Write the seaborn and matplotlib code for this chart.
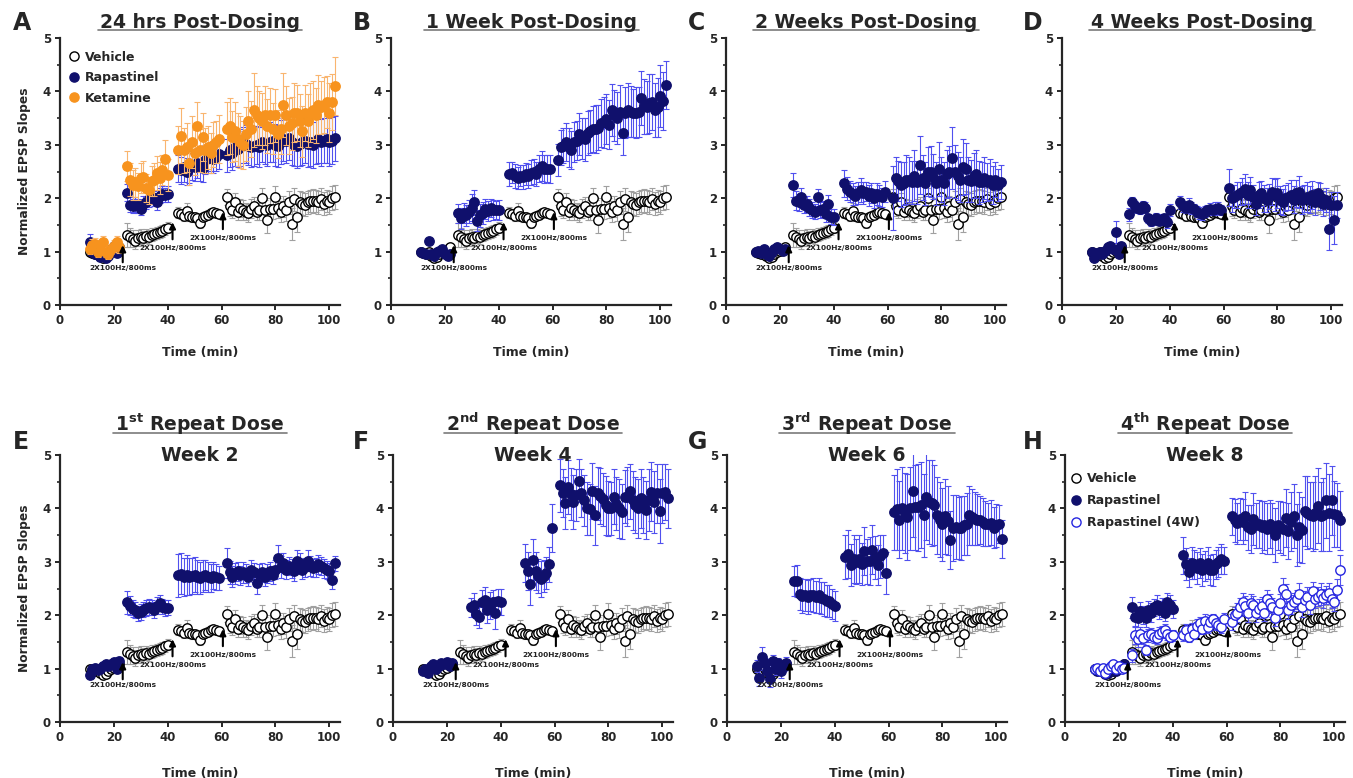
import numpy as np
import pandas as pd
import matplotlib
matplotlib.use("Agg")
import matplotlib.pyplot as plt
import seaborn as sns
from matplotlib.lines import Line2D
from matplotlib.ticker import MultipleLocator

nan = np.nan

# ---------------- data ----------------
time_min = list(range(11, 23)) + list(range(25, 41)) + list(range(44, 60)) + list(range(62, 103))

vehicle = [1.00, 0.98, 0.95, 1.00, 0.92, 0.88, 0.90, 0.95, 1.00, 1.02, 1.05, 1.08,
           1.31, 1.27, 1.24, 1.20, 1.26, 1.28, 1.25, 1.30, 1.28, 1.32, 1.33, 1.35, 1.37, 1.38, 1.42, 1.45,
           1.73, 1.70, 1.67, 1.76, 1.67, 1.64, 1.65, 1.62, 1.54, 1.65, 1.67, 1.69, 1.72, 1.74, 1.72, 1.70,
           2.02, 1.85, 1.78, 1.92, 1.75, 1.82, 1.78, 1.75, 1.72, 1.80, 1.85, 1.75, 1.78, 2.00, 1.78, 1.60,
           1.80, 1.80, 2.02, 1.82, 1.75, 1.85, 1.78, 1.92, 1.52, 1.98, 1.65, 1.92, 1.90, 1.88, 1.92, 1.95,
           1.95, 1.95, 1.92, 1.98, 1.90, 1.95, 1.92, 2.00, 2.02]
vehicle_sem = [0.04, 0.05, 0.04, 0.05, 0.06, 0.05, 0.04, 0.05, 0.04, 0.05, 0.04, 0.05,
               0.22, 0.18, 0.16, 0.15, 0.15, 0.14, 0.14, 0.13, 0.13, 0.12, 0.12, 0.12, 0.11, 0.11, 0.10, 0.10,
               0.10, 0.09, 0.09, 0.15, 0.09, 0.09, 0.08, 0.08, 0.10, 0.08, 0.08, 0.08, 0.08, 0.08, 0.08, 0.08,
               0.15, 0.18, 0.15, 0.18, 0.16, 0.17, 0.18, 0.16, 0.17, 0.18, 0.18, 0.16, 0.19, 0.20, 0.19, 0.26,
               0.20, 0.19, 0.20, 0.19, 0.20, 0.20, 0.21, 0.21, 0.30, 0.22, 0.28, 0.21, 0.21, 0.22, 0.21, 0.21,
               0.22, 0.21, 0.22, 0.21, 0.22, 0.21, 0.22, 0.22, 0.22]

rap_A = [1.18, 1.00, 0.95, 1.00, 0.90, 0.95, 0.88, 0.92, 1.05, 1.10, 0.98, 1.05,
         2.10, 1.88, 1.85, 1.88, 1.85, 1.80, 1.90, 1.92, 1.98, 2.02, 2.00, 1.93, 2.05, 2.07, 2.06, 2.07,
         2.55, 2.52, 2.58, 2.50, 2.56, 2.62, 2.58, 2.65, 2.60, 2.56, 2.72, 2.75, 2.78, 2.73, 2.78, 2.82,
         2.80, 2.90, 2.85, 2.95, 2.92, 2.95, 3.00, 3.02, 2.98, 2.95, 2.98, 3.00, 2.96, 3.05, 3.02, 3.00,
         3.05, 3.08, 3.00, 2.98, 3.05, 3.10, 3.08, 3.12, 3.05, 3.00, 2.98, 3.02, 3.05, 3.08, 3.02, 3.05,
         3.00, 3.08, 3.10, 3.05, 3.08, 3.10, 3.05, 3.08, 3.12]
rap_A_sem = [0.15, 0.06, 0.06, 0.05, 0.06, 0.06, 0.05, 0.06, 0.06, 0.07, 0.06, 0.06,
             0.16, 0.14, 0.13, 0.14, 0.13, 0.12, 0.14, 0.13, 0.14, 0.13, 0.14, 0.15, 0.14, 0.15, 0.14, 0.15,
             0.25, 0.26, 0.27, 0.26, 0.28, 0.27, 0.26, 0.28, 0.27, 0.26, 0.27, 0.28, 0.27, 0.26, 0.27, 0.28,
             0.30, 0.32, 0.33, 0.34, 0.33, 0.35, 0.34, 0.36, 0.35, 0.36, 0.37, 0.36, 0.38, 0.37, 0.38, 0.39,
             0.38, 0.40, 0.39, 0.40, 0.41, 0.40, 0.42, 0.41, 0.42, 0.40, 0.41, 0.42, 0.43, 0.42, 0.43, 0.44,
             0.43, 0.44, 0.45, 0.44, 0.43, 0.44, 0.45, 0.44, 0.42]

ket_A = [1.05, 1.12, 1.15, 1.00, 1.05, 1.18, 1.00, 0.95, 1.05, 1.10, 1.18, 1.08,
         2.60, 2.35, 2.25, 2.30, 2.22, 2.38, 2.40, 2.19, 2.15, 2.32, 2.35, 2.47, 2.38, 2.52, 2.74, 2.44,
         2.90, 3.17, 2.90, 2.95, 2.65, 3.05, 2.85, 3.35, 2.90, 3.15, 2.90, 2.95, 2.85, 3.00, 3.05, 3.10,
         3.30, 3.35, 3.15, 3.25, 3.10, 3.05, 3.00, 3.20, 3.45, 3.30, 3.65, 3.55, 3.50, 3.45, 3.55, 3.35,
         3.55, 3.30, 3.55, 3.20, 3.30, 3.75, 3.55, 3.35, 3.40, 3.60, 3.60, 3.45, 3.25, 3.60, 3.45, 3.60,
         3.65, 3.55, 3.75, 3.70, 3.75, 3.80, 3.60, 3.80, 4.10]
ket_A_sem = [0.10, 0.12, 0.10, 0.11, 0.09, 0.12, 0.10, 0.09, 0.10, 0.11, 0.12, 0.10,
             0.28, 0.30, 0.28, 0.27, 0.26, 0.28, 0.30, 0.26, 0.25, 0.28, 0.30, 0.32, 0.30, 0.28, 0.35, 0.30,
             0.45, 0.52, 0.42, 0.45, 0.40, 0.48, 0.42, 0.45, 0.40, 0.45, 0.42, 0.40, 0.38, 0.42, 0.40, 0.45,
             0.50, 0.52, 0.48, 0.55, 0.50, 0.48, 0.45, 0.50, 0.55, 0.52, 0.70, 0.55, 0.50, 0.52, 0.55, 0.50,
             0.52, 0.48, 0.50, 0.45, 0.48, 0.60, 0.55, 0.52, 0.50, 0.55, 0.52, 0.50, 0.48, 0.52, 0.50, 0.55,
             0.55, 0.52, 0.55, 0.50, 0.52, 0.48, 0.55, 0.52, 0.55]

rap_B = [1.00, 0.98, 0.95, 1.20, 0.95, 0.92, 1.00, 1.02, 1.05, 0.95, 0.92, 0.95,
         1.72, 1.62, 1.72, 1.68, 1.75, 1.82, 1.92, 1.58, 1.68, 1.72, 1.80, 1.76, 1.82, 1.78, 1.78, 1.78,
         2.45, 2.48, 2.42, 2.38, 2.42, 2.40, 2.45, 2.42, 2.48, 2.50, 2.45, 2.55, 2.60, 2.55, 2.55, 2.55,
         2.72, 2.95, 2.98, 3.05, 2.95, 2.90, 3.05, 3.08, 3.20, 3.12, 3.10, 3.22, 3.25, 3.30, 3.30, 3.32,
         3.40, 3.42, 3.48, 3.38, 3.65, 3.55, 3.50, 3.62, 3.22, 3.60, 3.65, 3.62, 3.60, 3.60, 3.62, 3.88,
         3.72, 3.70, 3.78, 3.80, 3.65, 3.70, 3.92, 3.82, 4.12]
rap_B_sem = [0.05, 0.05, 0.06, 0.05, 0.05, 0.06, 0.05, 0.05, 0.06, 0.05, 0.05, 0.05,
             0.18, 0.20, 0.19, 0.20, 0.22, 0.25, 0.24, 0.20, 0.21, 0.20, 0.19, 0.18, 0.17, 0.18, 0.17, 0.18,
             0.22, 0.20, 0.22, 0.21, 0.20, 0.22, 0.21, 0.22, 0.23, 0.24, 0.22, 0.25, 0.28, 0.26, 0.25, 0.26,
             0.30, 0.32, 0.33, 0.35, 0.36, 0.35, 0.38, 0.37, 0.40, 0.38, 0.40, 0.42, 0.40, 0.43, 0.45, 0.42,
             0.45, 0.48, 0.47, 0.45, 0.48, 0.47, 0.48, 0.50, 0.42, 0.48, 0.50, 0.48, 0.45, 0.48, 0.47, 0.50,
             0.52, 0.50, 0.55, 0.52, 0.50, 0.55, 0.58, 0.55, 0.45]

rap_C = [1.00, 1.02, 0.98, 1.05, 0.95, 0.92, 1.00, 1.05, 1.08, 1.05, 1.02, 1.05,
         2.25, 1.95, 1.92, 2.02, 1.88, 1.90, 1.82, 1.78, 1.75, 2.02, 1.78, 1.80, 1.70, 1.90, 1.65, 1.65,
         2.28, 2.18, 2.12, 2.08, 2.05, 2.10, 2.15, 2.10, 2.12, 2.05, 2.10, 2.00, 2.08, 2.05, 2.02, 2.12,
         2.00, 2.38, 2.32, 2.25, 2.28, 2.35, 2.35, 2.30, 2.42, 2.30, 2.62, 2.38, 2.28, 2.50, 2.50, 2.40,
         2.28, 2.55, 2.35, 2.28, 2.45, 2.50, 2.75, 2.50, 2.42, 2.35, 2.58, 2.55, 2.35, 2.32, 2.42, 2.45,
         2.30, 2.30, 2.38, 2.30, 2.35, 2.25, 2.35, 2.25, 2.30]
rap_C_sem = [0.05, 0.05, 0.06, 0.05, 0.05, 0.06, 0.05, 0.05, 0.06, 0.05, 0.05, 0.05,
             0.22, 0.18, 0.16, 0.18, 0.16, 0.15, 0.16, 0.15, 0.14, 0.16, 0.15, 0.15, 0.14, 0.16, 0.14, 0.15,
             0.25, 0.22, 0.20, 0.20, 0.18, 0.20, 0.22, 0.20, 0.18, 0.20, 0.19, 0.18, 0.20, 0.19, 0.18, 0.20,
             0.60, 0.40, 0.38, 0.42, 0.40, 0.45, 0.42, 0.40, 0.48, 0.40, 0.55, 0.42, 0.40, 0.45, 0.48, 0.42,
             0.40, 0.50, 0.42, 0.40, 0.45, 0.48, 0.58, 0.50, 0.45, 0.42, 0.52, 0.48, 0.42, 0.40, 0.42, 0.45,
             0.40, 0.38, 0.40, 0.35, 0.38, 0.35, 0.32, 0.30, 0.32]

rap_D = [1.00, 0.88, 0.98, 1.00, 0.95, 1.02, 1.08, 1.10, 1.05, 1.37, 0.95, 1.10,
         1.70, 1.92, 1.85, 1.82, 1.80, 1.85, 1.82, 1.62, 1.58, 1.60, 1.62, 1.58, 1.60, 1.62, 1.55, 1.78,
         1.92, 1.85, 1.82, 1.88, 1.82, 1.80, 1.75, 1.72, 1.70, 1.75, 1.78, 1.80, 1.78, 1.80, 1.82, 1.78,
         2.20, 2.00, 2.03, 2.06, 2.09, 2.12, 2.18, 2.06, 2.15, 2.03, 1.90, 2.06, 2.09, 2.00, 1.97, 2.03,
         2.12, 2.06, 2.09, 1.97, 1.93, 2.00, 2.03, 2.06, 1.97, 2.09, 2.12, 1.97, 2.00, 2.03, 1.97, 2.06,
         1.93, 2.09, 2.03, 1.90, 1.97, 1.43, 1.87, 1.59, 1.87]
rap_D_sem = [0.05, 0.06, 0.05, 0.06, 0.05, 0.05, 0.06, 0.05, 0.06, 0.20, 0.06, 0.05,
             0.12, 0.10, 0.10, 0.09, 0.10, 0.09, 0.10, 0.09, 0.10, 0.09, 0.10, 0.09, 0.10, 0.09, 0.10, 0.12,
             0.12, 0.10, 0.10, 0.12, 0.11, 0.10, 0.10, 0.11, 0.10, 0.11, 0.10, 0.11, 0.10, 0.12, 0.11, 0.10,
             0.35, 0.25, 0.22, 0.25, 0.22, 0.25, 0.28, 0.24, 0.25, 0.22, 0.22, 0.25, 0.24, 0.25, 0.22, 0.24,
             0.25, 0.30, 0.28, 0.26, 0.25, 0.24, 0.26, 0.28, 0.25, 0.26, 0.30, 0.26, 0.25, 0.28, 0.25, 0.26,
             0.24, 0.22, 0.25, 0.24, 0.22, 0.40, 0.25, 0.45, 0.25]

rap_E = [0.88, 1.00, 1.02, 0.98, 1.00, 1.05, 1.08, 1.05, 1.08, 1.12, 1.00, 1.15,
         2.24, 2.18, 2.12, 2.10, 2.04, 2.06, 2.10, 2.14, 2.16, 2.14, 2.10, 2.18, 2.22, 2.16, 2.14, 2.14,
         2.75, 2.78, 2.72, 2.75, 2.72, 2.74, 2.76, 2.72, 2.70, 2.74, 2.76, 2.72, 2.70, 2.74, 2.72, 2.70,
         2.97, 2.80, 2.72, 2.78, 2.82, 2.75, 2.80, 2.78, 2.72, 2.85, 2.80, 2.60, 2.78, 2.80, 2.72, 2.78,
         2.82, 2.75, 2.85, 3.07, 2.90, 2.98, 2.85, 2.92, 2.88, 2.82, 3.02, 2.98, 2.85, 2.90, 3.02, 2.92,
         2.88, 2.90, 2.95, 2.92, 2.88, 2.85, 2.82, 2.65, 2.97]
rap_E_sem = [0.06, 0.06, 0.07, 0.06, 0.06, 0.07, 0.06, 0.07, 0.06, 0.07, 0.06, 0.07,
             0.22, 0.18, 0.16, 0.15, 0.14, 0.15, 0.14, 0.15, 0.15, 0.14, 0.15, 0.16, 0.15, 0.14, 0.15, 0.14,
             0.40, 0.38, 0.36, 0.38, 0.35, 0.34, 0.33, 0.32, 0.30, 0.30, 0.28, 0.28, 0.26, 0.25, 0.24, 0.22,
             0.28, 0.22, 0.20, 0.20, 0.18, 0.18, 0.20, 0.18, 0.17, 0.18, 0.18, 0.20, 0.18, 0.18, 0.17, 0.18,
             0.18, 0.17, 0.18, 0.25, 0.20, 0.18, 0.18, 0.17, 0.18, 0.18, 0.20, 0.18, 0.17, 0.18, 0.20, 0.18,
             0.17, 0.18, 0.18, 0.17, 0.18, 0.17, 0.16, 0.15, 0.14]

rap_F = [0.95, 1.00, 0.92, 1.05, 1.08, 1.00, 1.05, 1.10, 1.08, 1.12, 1.05, 1.10,
         nan, nan, nan, nan, 2.15, 2.20, 2.02, 1.96, 2.25, 2.28, 2.10, 2.18, 2.25, 2.04, 2.26, 2.25,
         nan, nan, nan, nan, nan, 2.98, 2.83, 2.59, 3.04, 2.83, 2.74, 2.68, 2.74, 2.79, 2.95, 3.64,
         4.43, 4.28, 4.10, 4.40, 4.27, 4.12, 4.25, 4.52, 4.28, 4.15, 4.00, 3.98, 4.33, 3.87, 4.28, 4.23,
         4.17, 4.06, 4.00, 4.00, 4.22, 4.09, 4.00, 3.94, 4.22, 4.22, 4.32, 4.15, 4.06, 4.00, 4.19, 4.06,
         3.97, 4.15, 4.31, 4.12, 4.28, 3.95, 4.28, 4.31, 4.19]
rap_F_sem = [0.06, 0.06, 0.07, 0.06, 0.06, 0.07, 0.06, 0.07, 0.06, 0.07, 0.06, 0.07,
             nan, nan, nan, nan, 0.18, 0.22, 0.20, 0.20, 0.22, 0.25, 0.24, 0.25, 0.22, 0.30, 0.24, 0.25,
             nan, nan, nan, nan, nan, 0.35, 0.35, 0.40, 0.38, 0.35, 0.32, 0.33, 0.30, 0.30, 0.32, 0.45,
             0.50, 0.45, 0.48, 0.50, 0.48, 0.50, 0.48, 0.40, 0.45, 0.48, 0.50, 0.48, 0.52, 0.55, 0.50, 0.52,
             0.50, 0.55, 0.52, 0.50, 0.52, 0.50, 0.55, 0.52, 0.50, 0.55, 0.52, 0.55, 0.52, 0.55, 0.55, 0.52,
             0.55, 0.58, 0.55, 0.58, 0.55, 0.60, 0.55, 0.52, 0.55]

rap_G = [1.05, 0.82, 1.22, 1.10, 0.95, 0.80, 1.15, 1.00, 1.10, 0.95, 1.05, 1.10,
         2.64, 2.64, 2.40, 2.36, 2.37, 2.34, 2.37, 2.38, 2.34, 2.37, 2.33, 2.30, 2.27, 2.27, 2.21, 2.18,
         3.09, 3.14, 2.94, 3.06, 3.00, 3.06, 2.96, 3.20, 3.01, 3.02, 3.23, 3.08, 2.94, 3.10, 3.16, 2.79,
         3.93, 3.98, 3.79, 4.00, 3.92, 3.84, 4.00, 4.32, 4.02, 4.02, 4.06, 3.87, 4.22, 4.12, 4.10, 4.06,
         3.87, 3.79, 3.70, 3.85, 3.77, 3.41, 3.64, 3.66, 3.64, 3.64, 3.68, 3.71, 3.87, 3.84, 3.81, 3.79,
         3.78, 3.75, 3.71, 3.70, 3.73, 3.64, 3.68, 3.71, 3.43]
rap_G_sem = [0.12, 0.15, 0.18, 0.10, 0.12, 0.15, 0.10, 0.12, 0.10, 0.12, 0.10, 0.12,
             0.28, 0.30, 0.30, 0.32, 0.30, 0.32, 0.30, 0.32, 0.30, 0.32, 0.30, 0.32, 0.30, 0.30, 0.28, 0.28,
             0.42, 0.45, 0.40, 0.45, 0.42, 0.45, 0.40, 0.45, 0.42, 0.45, 0.45, 0.40, 0.38, 0.40, 0.35, 0.40,
             0.70, 0.75, 0.72, 0.78, 0.75, 0.80, 0.78, 0.85, 0.80, 0.82, 0.80, 0.78, 0.82, 0.78, 0.80, 0.75,
             0.72, 0.70, 0.68, 0.70, 0.65, 0.55, 0.62, 0.60, 0.58, 0.60, 0.55, 0.58, 0.55, 0.52, 0.50, 0.48,
             0.45, 0.45, 0.42, 0.40, 0.42, 0.38, 0.40, 0.35, 0.35]

rap_H = [1.00, 0.95, 0.98, 1.00, 0.90, 0.92, 0.95, 1.00, 0.95, 1.02, 1.05, 1.08,
         2.15, 1.97, 1.95, 2.08, 2.00, 1.95, 2.10, 2.05, 2.15, 2.20, 2.10, 2.15, 2.05, 2.25, 2.20, 2.12,
         3.12, 2.95, 2.80, 2.98, 2.95, 2.88, 2.98, 2.85, 2.92, 2.98, 2.85, 2.85, 2.95, 3.00, 3.05, 3.02,
         3.85, 3.78, 3.72, 3.80, 3.75, 3.85, 3.65, 3.62, 3.80, 3.68, 3.70, 3.65, 3.68, 3.62, 3.70, 3.62,
         3.50, 3.68, 3.65, 3.62, 3.82, 3.58, 3.75, 3.85, 3.50, 3.65, 3.60, 3.95, 3.92, 3.88, 3.85, 3.92,
         4.05, 3.85, 3.88, 4.15, 3.92, 4.15, 3.90, 3.88, 3.78]
rap_H_sem = [0.05, 0.05, 0.06, 0.05, 0.05, 0.06, 0.05, 0.05, 0.06, 0.05, 0.05, 0.05,
             0.20, 0.18, 0.17, 0.16, 0.17, 0.18, 0.16, 0.17, 0.16, 0.18, 0.17, 0.18, 0.16, 0.17, 0.18, 0.17,
             0.35, 0.30, 0.28, 0.30, 0.28, 0.30, 0.28, 0.30, 0.28, 0.30, 0.28, 0.30, 0.28, 0.28, 0.28, 0.25,
             0.35, 0.40, 0.38, 0.40, 0.42, 0.45, 0.42, 0.45, 0.48, 0.42, 0.45, 0.48, 0.45, 0.48, 0.45, 0.48,
             0.50, 0.45, 0.48, 0.50, 0.55, 0.52, 0.55, 0.60, 0.58, 0.65, 0.62, 0.65, 0.68, 0.62, 0.65, 0.68,
             0.70, 0.65, 0.68, 0.70, 0.72, 0.65, 0.62, 0.60, 0.55]

rap4w_H = [1.00, 1.02, 0.95, 1.02, 0.92, 1.00, 1.05, 1.08, 1.00, 1.05, 1.00, 1.02,
           1.25, 1.62, 1.55, 1.65, 1.58, 1.35, 1.62, 1.65, 1.60, 1.58, 1.65, 1.68, 1.72, 1.65, 1.60, 1.62,
           1.62, 1.72, 1.60, 1.75, 1.65, 1.80, 1.85, 1.75, 1.90, 1.78, 1.88, 1.92, 1.85, 1.82, 1.78, 1.92,
           1.87, 2.00, 2.05, 2.15, 2.25, 2.18, 2.05, 2.22, 2.20, 2.05, 2.12, 2.18, 2.05, 2.30, 2.22, 2.15,
           1.95, 2.10, 2.22, 2.50, 2.40, 2.10, 2.20, 2.25, 2.30, 2.40, 2.15, 2.28, 2.35, 2.20, 2.45, 2.30,
           2.35, 2.40, 2.32, 2.38, 2.42, 2.30, 2.25, 2.48, 2.85]
rap4w_H_sem = [0.04, 0.04, 0.04, 0.04, 0.04, 0.04, 0.04, 0.04, 0.04, 0.04, 0.04, 0.04,
               0.12, 0.15, 0.14, 0.13, 0.12, 0.10, 0.12, 0.11, 0.12, 0.11, 0.12, 0.11, 0.12, 0.11, 0.10, 0.10,
               0.10, 0.12, 0.10, 0.11, 0.10, 0.12, 0.11, 0.10, 0.12, 0.11, 0.12, 0.11, 0.12, 0.10, 0.11, 0.12,
               0.15, 0.16, 0.18, 0.17, 0.16, 0.18, 0.17, 0.18, 0.16, 0.17, 0.18, 0.17, 0.16, 0.18, 0.17, 0.18,
               0.16, 0.17, 0.18, 0.20, 0.18, 0.17, 0.18, 0.17, 0.18, 0.20, 0.18, 0.17, 0.18, 0.17, 0.18, 0.17,
               0.18, 0.20, 0.18, 0.17, 0.18, 0.17, 0.18, 0.20, 0.28]

stim_times = [23.3, 41.8, 60.5]
stim_label = "2X100Hz/800ms"
x_ticks = [0, 20, 40, 60, 80, 100]
y_ticks = [0, 1, 2, 3, 4, 5]

panel_letters = ["A", "B", "C", "D", "E", "F", "G", "H"]
panel_titles = [["24 hrs Post-Dosing"], ["1 Week Post-Dosing"], ["2 Weeks Post-Dosing"],
                ["4 Weeks Post-Dosing"],
                [r"1$^{\mathbf{st}}$ Repeat Dose", "Week 2"], [r"2$^{\mathbf{nd}}$ Repeat Dose", "Week 4"],
                [r"3$^{\mathbf{rd}}$ Repeat Dose", "Week 6"], [r"4$^{\mathbf{th}}$ Repeat Dose", "Week 8"]]
panel_series = [
    [("Vehicle", vehicle, vehicle_sem, "veh"), ("Rapastinel", rap_A, rap_A_sem, "rap"),
     ("Ketamine", ket_A, ket_A_sem, "ket")],
    [("Vehicle", vehicle, vehicle_sem, "veh"), ("Rapastinel", rap_B, rap_B_sem, "rap")],
    [("Vehicle", vehicle, vehicle_sem, "veh"), ("Rapastinel", rap_C, rap_C_sem, "rap")],
    [("Vehicle", vehicle, vehicle_sem, "veh"), ("Rapastinel", rap_D, rap_D_sem, "rap")],
    [("Vehicle", vehicle, vehicle_sem, "veh"), ("Rapastinel", rap_E, rap_E_sem, "rap")],
    [("Vehicle", vehicle, vehicle_sem, "veh"), ("Rapastinel", rap_F, rap_F_sem, "rap")],
    [("Vehicle", vehicle, vehicle_sem, "veh"), ("Rapastinel", rap_G, rap_G_sem, "rap")],
    [("Vehicle", vehicle, vehicle_sem, "veh"), ("Rapastinel", rap_H, rap_H_sem, "rap"),
     ("Rapastinel (4W)", rap4w_H, rap4w_H_sem, "rap4w")],
]

# ---------------- style ----------------
styles = {
    "veh": dict(face="white", edge="black", err="#a0a0a0"),
    "rap": dict(face="#10106c", edge="#10106c", err="#5050ee"),
    "ket": dict(face="#f7931e", edge="#f7931e", err="#f9b56f"),
    "rap4w": dict(face="white", edge="#2626e0", err="#5050ee"),
}

sns.set_style("ticks")
plt.rcParams["font.family"] = ["DejaVu Sans"]
plt.rcParams["font.weight"] = "bold"
plt.rcParams["mathtext.fontset"] = "dejavusans"

W, H = 1353, 778
fig = plt.figure(figsize=(W / 100, H / 100), dpi=100)

lefts = [[60, 391, 726, 1062], [60, 393, 727, 1065]]
tops = [38, 455]
AX_W, AX_H = 280, 267


def px_axes(left, top):
    return fig.add_axes([left / W, 1 - (top + AX_H) / H, AX_W / W, AX_H / H])


title_texts = []
for i in range(8):
    row, col = divmod(i, 4)
    ax = px_axes(lefts[row][col], tops[row])
    for k, (name, vals, sem, key) in enumerate(panel_series[i]):
        st = styles[key]
        df = pd.DataFrame({"time": time_min, "value": vals, "sem": sem})
        ax.errorbar(df["time"], df["value"], yerr=df["sem"], fmt="none", ecolor=st["err"],
                    elinewidth=0.8, capsize=2.0, capthick=0.8, zorder=2 + 2 * k)
        sns.scatterplot(data=df, x="time", y="value", ax=ax, color=st["face"], edgecolor=st["edge"],
                        linewidth=1.0, s=46, zorder=3 + 2 * k, legend=False)

    ax.set_xlim(0, 104)
    ax.set_ylim(0, 5)
    ax.set_xticks(x_ticks)
    ax.set_yticks(y_ticks)
    ax.yaxis.set_minor_locator(MultipleLocator(0.5))
    ax.tick_params(axis="both", which="major", labelsize=8.5, width=1.4, length=3.5, pad=3,
                   direction="out")
    ax.tick_params(axis="y", which="minor", width=1.2, length=2.5, direction="out")
    for lab in ax.get_xticklabels() + ax.get_yticklabels():
        lab.set_fontweight("bold")
    sns.despine(ax=ax)
    for sp in ("left", "bottom"):
        ax.spines[sp].set_linewidth(1.6)

    ax.set_xlabel("Time (min)", fontsize=9, fontweight="bold")
    ax.xaxis.set_label_coords(0.5, -0.155 if row == 0 else -0.168)
    if col == 0:
        ax.set_ylabel("Normalized EPSP Slopes", fontsize=8.8, fontweight="bold")
        ax.yaxis.set_label_coords(-0.105, 0.5)
    else:
        ax.set_ylabel("")

    # stimulation arrows
    arrow_spans = [(0.80, 1.12), (1.23, 1.55), (1.42, 1.74)]
    label_ys = [0.70, 1.06, 1.25]
    for xs, (y0, y1), ly in zip(stim_times, arrow_spans, label_ys):
        ax.annotate("", xy=(xs, y1), xytext=(xs, y0),
                    arrowprops=dict(arrowstyle="-|>", color="black", lw=1.5, mutation_scale=9,
                                    shrinkA=0, shrinkB=0), zorder=20)
        ax.text(xs, ly, stim_label, fontsize=5.3, fontweight="bold", color="#222222",
                ha="center", va="center", zorder=20)

    # legends
    if i in (0, 7):
        handles = [Line2D([], [], marker="o", ls="", ms=6.6, mfc=styles[key]["face"],
                          mec=styles[key]["edge"], mew=1.0) for (_, _, _, key) in panel_series[i]]
        labels = [name for (name, _, _, _) in panel_series[i]]
        if i == 0:
            anchor, lsp = (0.033, 0.952), 0.6
        else:
            anchor, lsp = (0.022, 0.935), 0.72
        leg = ax.legend(handles, labels, loc="upper left", bbox_to_anchor=anchor, frameon=False,
                        borderpad=0, borderaxespad=0, handlelength=0.8, handletextpad=0.45,
                        labelspacing=lsp, prop=dict(size=9, weight="bold"))

    # panel letter
    letter_x = [13, 353, 688, 1023][col]
    letter_y = 30 if row == 0 else 449
    fig.text(letter_x / W, 1 - letter_y / H, panel_letters[i], fontsize=17, fontweight="bold",
             ha="left", va="baseline")

    # titles
    cx = (lefts[row][col] + AX_W / 2) / W
    if row == 0:
        t = fig.text(cx, 1 - 28 / H, panel_titles[i][0], fontsize=13.5, fontweight="bold",
                     ha="center", va="baseline")
        title_texts.append((t, 29.5))
    else:
        t = fig.text(cx, 1 - 431 / H, panel_titles[i][0], fontsize=13.5, fontweight="bold",
                     ha="center", va="baseline")
        title_texts.append((t, 432.5))
        fig.text(cx, 1 - 461 / H, panel_titles[i][1], fontsize=13.5, fontweight="bold",
                 ha="center", va="baseline")

# underlines under the main titles
fig.canvas.draw()
renderer = fig.canvas.get_renderer()
for t, ypx in title_texts:
    bb = t.get_window_extent(renderer)
    yf = 1 - ypx / H
    fig.add_artist(Line2D([(bb.x0 - 2) / W, (bb.x1 + 2) / W], [yf, yf], transform=fig.transFigure,
                          color="#7a7a7a", lw=1.2))

fig.savefig("out.png", dpi=100)
